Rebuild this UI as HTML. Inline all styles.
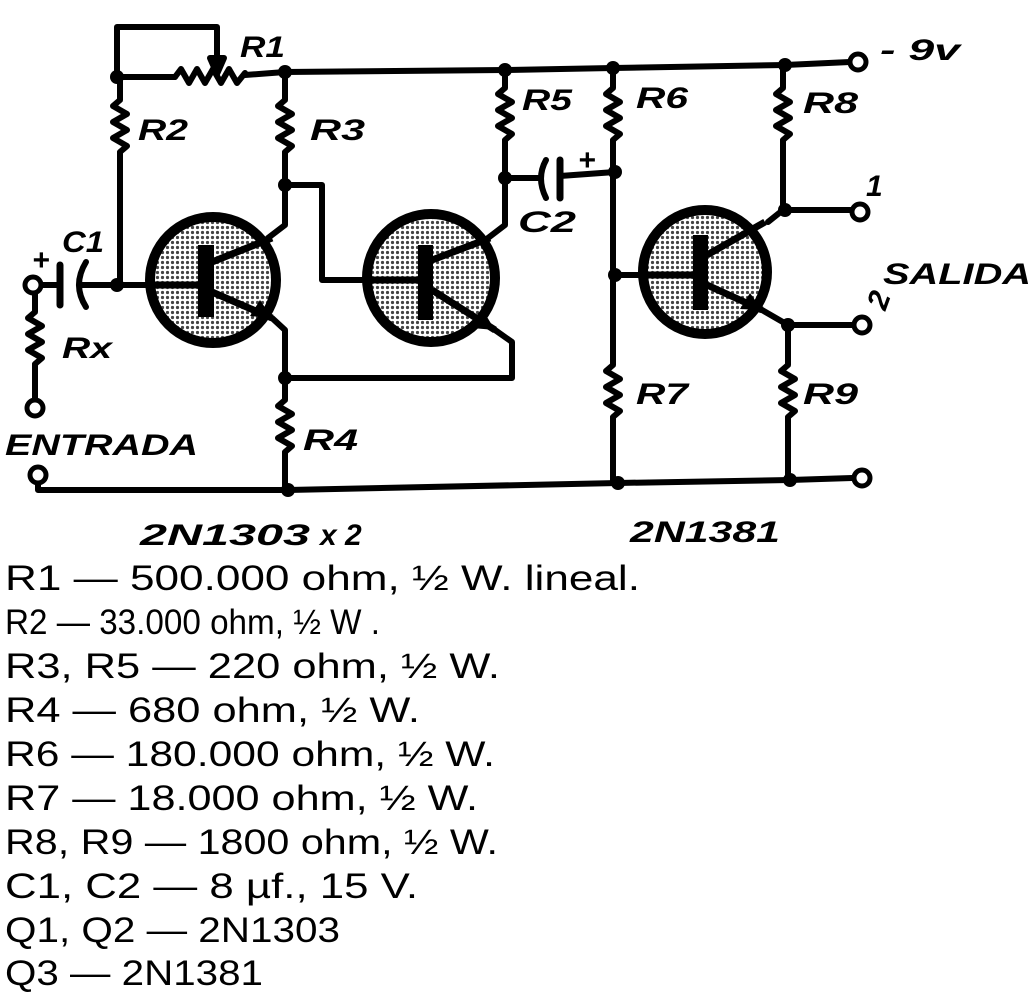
<!DOCTYPE html>
<html><head><meta charset="utf-8"><style>
html,body{margin:0;padding:0;background:#fff;}
svg{display:block;}
.l{font-family:"Liberation Sans",sans-serif;font-style:italic;font-weight:bold;font-size:30px;fill:#000;}
.p{font-family:"Liberation Sans",sans-serif;font-size:35px;fill:#000;}
</style></head><body>
<svg width="1032" height="1004" viewBox="0 0 1032 1004" xmlns="http://www.w3.org/2000/svg">
<defs>
<pattern id="dots" width="5" height="5" patternUnits="userSpaceOnUse">
<rect width="5" height="5" fill="#fff"/><circle cx="2.5" cy="2.5" r="1.6" fill="#444"/>
</pattern>
</defs>
<g stroke="#000" stroke-width="6" fill="none" stroke-linecap="round" stroke-linejoin="round">
<path d="M117 77 H175 M245 75 L285 72 L505 70 L613 68 L785 65 L850 62"/>
<path d="M175 77 l6 -8 l8 14 l8 -14 l8 14 l8 -14 l8 14 l8 -14 l8 14 l8 -10"/>
<path d="M117 77 V27 H217 V60"/>
<path d="M210 58 L217 74 L224 58 Z" fill="#000"/>
<path d="M120 77 V100 l-7 6 l14 8 l-14 8 l14 8 l-14 8 l14 8 l-7 6 V285"/>
<path d="M285 72 V100 l-7 6 l14 8 l-14 8 l14 8 l-14 8 l14 8 l-7 6 V225 L268 238"/>
<path d="M285 185 H322 V280 H362"/>
<path d="M82 285 H146"/>
<path d="M60 265 V305" stroke-width="7"/>
<path d="M86 262 Q72 285 86 307"/>
<path d="M38 285 H60"/>
<path d="M35 293 V312 l-7 6 l14 8 l-14 8 l14 8 l-14 8 l14 8 l-7 6 V400"/>
<path d="M272 318 L285 330 V400 l-7 6 l14 8 l-14 8 l14 8 l-14 8 l14 8 l-7 6 V490"/>
<path d="M285 378 H512 V342 L495 330"/>
<path d="M505 70 V88 l-7 6 l14 8 l-14 8 l14 8 l-14 8 l14 8 l-7 6 V225 L488 238"/>
<path d="M505 178 H540"/>
<path d="M546 160 Q536 178 546 198"/>
<path d="M560 160 V198" stroke-width="7"/>
<path d="M560 176 L615 172"/>
<path d="M613 68 V88 l-7 6 l14 8 l-14 8 l14 8 l-14 8 l14 8 l-7 6 V275 V365 l-7 6 l14 8 l-14 8 l14 8 l-14 8 l14 8 l-7 6 V483"/>
<path d="M615 275 H640"/>
<path d="M783 65 V88 l-7 6 l14 8 l-14 8 l14 8 l-14 8 l14 8 l-7 6 V210 L768 222"/>
<path d="M785 210 H852"/>
<path d="M762 310 L788 325 H854"/>
<path d="M788 325 V365 l-7 6 l14 8 l-14 8 l14 8 l-14 8 l14 8 l-7 6 V480"/>
<path d="M38 483 V490 H288 L618 483 L790 480 L852 478"/>
</g>
<g stroke="#000" stroke-width="10">
<circle cx="213" cy="280" r="63" fill="url(#dots)"/>
<circle cx="431" cy="278" r="64" fill="url(#dots)"/>
<circle cx="705" cy="272" r="62" fill="url(#dots)"/>
</g>
<g stroke="#000" stroke-width="7" fill="none">
<path d="M150 285 H205"/><path d="M212 262 L272 238"/><path d="M212 292 L272 318"/>
<path d="M368 280 H425"/><path d="M432 260 L490 238"/><path d="M432 290 L495 330"/>
<path d="M643 275 H700"/><path d="M707 255 L765 222"/><path d="M707 285 L762 310"/>
</g>
<g fill="#000">
<rect x="198" y="245" width="16" height="72"/>
<rect x="418" y="245" width="15" height="75"/>
<rect x="693" y="235" width="15" height="75"/>
<path d="M272 318 L250 316 L260 300 Z"/>
<path d="M495 330 L472 328 L484 312 Z"/>
<path d="M762 310 L740 309 L750 293 Z"/>
<circle cx="117" cy="77" r="7"/><circle cx="285" cy="72" r="7"/><circle cx="505" cy="70" r="7"/>
<circle cx="613" cy="68" r="7"/><circle cx="785" cy="65" r="7"/><circle cx="117" cy="285" r="7"/>
<circle cx="285" cy="185" r="7"/><circle cx="505" cy="178" r="7"/><circle cx="615" cy="172" r="7"/>
<circle cx="285" cy="378" r="7"/><circle cx="288" cy="490" r="7"/><circle cx="615" cy="275" r="7"/>
<circle cx="785" cy="210" r="7"/><circle cx="788" cy="325" r="7"/><circle cx="618" cy="483" r="7"/>
<circle cx="790" cy="480" r="7"/>
</g>
<g fill="#fff" stroke="#000" stroke-width="5">
<circle cx="858" cy="62" r="8"/><circle cx="860" cy="212" r="8"/><circle cx="862" cy="325" r="8"/>
<circle cx="862" cy="478" r="8"/><circle cx="33" cy="285" r="8"/><circle cx="35" cy="408" r="8"/>
<circle cx="38" cy="475" r="8"/>
</g>
<text class="l" x="240" y="57" textLength="45" lengthAdjust="spacingAndGlyphs">R1</text>
<text class="l" x="138" y="140" textLength="50" lengthAdjust="spacingAndGlyphs">R2</text>
<text class="l" x="310" y="140" textLength="55" lengthAdjust="spacingAndGlyphs">R3</text>
<text class="l" x="522" y="110" textLength="50" lengthAdjust="spacingAndGlyphs">R5</text>
<text class="l" x="636" y="108" textLength="52" lengthAdjust="spacingAndGlyphs">R6</text>
<text class="l" x="803" y="113" textLength="55" lengthAdjust="spacingAndGlyphs">R8</text>
<text class="l" x="636" y="404" textLength="52" lengthAdjust="spacingAndGlyphs">R7</text>
<text class="l" x="803" y="404" textLength="55" lengthAdjust="spacingAndGlyphs">R9</text>
<text class="l" x="303" y="450" textLength="55" lengthAdjust="spacingAndGlyphs">R4</text>
<text class="l" x="62" y="252" textLength="42" lengthAdjust="spacingAndGlyphs">C1</text>
<text class="l" x="32" y="270" font-size="22">+</text>
<text class="l" x="578" y="170" font-size="22">+</text>
<text class="l" x="62" y="358" textLength="50" lengthAdjust="spacingAndGlyphs">Rx</text>
<text class="l" x="518" y="232" textLength="58" lengthAdjust="spacingAndGlyphs">C2</text>
<text class="l" x="5" y="455" textLength="193" lengthAdjust="spacingAndGlyphs">ENTRADA</text>
<text class="l" x="880" y="60" textLength="80" lengthAdjust="spacingAndGlyphs">- 9v</text>
<text class="l" x="866" y="196">1</text>
<text class="l" x="883" y="284" textLength="148" lengthAdjust="spacingAndGlyphs">SALIDA</text>
<text class="l" x="876" y="318" transform="rotate(-70 876 308)">2</text>
<text class="l" x="140" y="545" font-size="32" textLength="170" lengthAdjust="spacingAndGlyphs">2N1303</text>
<text class="l" x="320" y="545" font-size="26">x 2</text>
<text class="l" x="630" y="542" font-size="32" textLength="150" lengthAdjust="spacingAndGlyphs">2N1381</text>
<text class="p" x="5" y="590" textLength="635" lengthAdjust="spacingAndGlyphs">R1 — 500.000 ohm, ½ W. lineal.</text>
<text class="p" x="5" y="634" textLength="375" lengthAdjust="spacingAndGlyphs">R2 — 33.000 ohm, ½ W .</text>
<text class="p" x="5" y="678" textLength="495" lengthAdjust="spacingAndGlyphs">R3, R5 — 220 ohm, ½ W.</text>
<text class="p" x="5" y="722" textLength="415" lengthAdjust="spacingAndGlyphs">R4 — 680 ohm, ½ W.</text>
<text class="p" x="5" y="766" textLength="490" lengthAdjust="spacingAndGlyphs">R6 — 180.000 ohm, ½ W.</text>
<text class="p" x="5" y="810" textLength="473" lengthAdjust="spacingAndGlyphs">R7 — 18.000 ohm, ½ W.</text>
<text class="p" x="5" y="854" textLength="493" lengthAdjust="spacingAndGlyphs">R8, R9 — 1800 ohm, ½ W.</text>
<text class="p" x="5" y="898" textLength="413" lengthAdjust="spacingAndGlyphs">C1, C2 — 8 µf., 15 V.</text>
<text class="p" x="5" y="942" textLength="335" lengthAdjust="spacingAndGlyphs">Q1, Q2 — 2N1303</text>
<text class="p" x="5" y="985" textLength="258" lengthAdjust="spacingAndGlyphs">Q3 — 2N1381</text>
</svg>
</body></html>
